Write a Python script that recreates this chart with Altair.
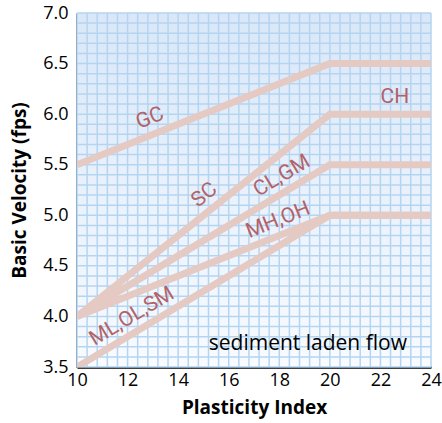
import altair as alt
import numpy as np
import pandas as pd

# ---- data ----
series = ["GC", "SC", "CL,GM", "MH,OH", "ML,OL,SM"]
pi_points = [10, 20, 24]
vel_gc = [5.5, 6.5, 6.5]
vel_sc = [4.0, 6.0, 6.0]
vel_clgm = [4.0, 5.5, 5.5]
vel_mhoh = [4.0, 5.0, 5.0]
vel_mlolsm = [3.5, 5.0, 5.0]

label_text = ["GC", "SC", "CL,GM", "MH,OH", "ML,OL,SM", "CH"]
label_x = [12.89, 15.04, 18.1, 17.95, 12.17, 22.57]
label_y = [5.96, 5.20, 5.39, 4.95, 4.00, 6.17]
label_angle = [338.2, 321.3, 329.0, 338.2, 329.0, 0]

x_ticks = [10, 12, 14, 16, 18, 20, 22, 24]
y_ticks = [3.5, 4.0, 4.5, 5.0, 5.5, 6.0, 6.5, 7.0]

W, H = 354, 354
X_DOM = [10, 24]
Y_DOM = [3.5, 7.0]
X_TITLE = "Plasticity Index"
Y_TITLE = "Basic Velocity (fps)"

rows = []
for name, vals in zip(series, [vel_gc, vel_sc, vel_clgm, vel_mhoh, vel_mlolsm]):
    for px, v in zip(pi_points, vals):
        rows.append({"series": name, "pi": px, "vel": v})
lines_df = pd.DataFrame(rows)
labels_df = pd.DataFrame({"text": label_text, "x": label_x, "y": label_y, "angle": label_angle})
xgrid_df = pd.DataFrame({"g": np.round(np.arange(10, 24.0001, 0.4), 2)})
ygrid_df = pd.DataFrame({"g": np.round(np.arange(3.5, 7.0001, 0.1), 2)})
note_df = pd.DataFrame({"text": ["sediment laden flow"], "x": [19.13], "y": [3.67]})

xs = alt.Scale(domain=X_DOM, nice=False, zero=False)
ys = alt.Scale(domain=Y_DOM, nice=False, zero=False)

bg = alt.Chart(pd.DataFrame({"a": [0]})).mark_rect(
    fill=alt.LinearGradient(
        gradient="linear",
        stops=[alt.GradientStop(offset=0, color="#d9e7f8"),
               alt.GradientStop(offset=1, color="#f8fbff")],
        x1=0, x2=0, y1=0, y2=1,
    )
).encode(x=alt.value(0), x2=alt.value(W), y=alt.value(0), y2=alt.value(H))

grid_color = "#b4d5f1"
xgrid = alt.Chart(xgrid_df).mark_rule(color=grid_color, strokeWidth=1.5).encode(
    x=alt.X("g:Q", scale=xs, title=X_TITLE)
)
ygrid = alt.Chart(ygrid_df).mark_rule(color=grid_color, strokeWidth=1.5).encode(
    y=alt.Y("g:Q", scale=ys, title=Y_TITLE)
)

lines = alt.Chart(lines_df).mark_line(color="#e5c9c3", strokeWidth=7, clip=True).encode(
    x=alt.X("pi:Q", scale=xs, title=X_TITLE,
            axis=alt.Axis(values=x_ticks, format="d", labelPadding=4, titlePadding=9)),
    y=alt.Y("vel:Q", scale=ys, title=Y_TITLE,
            axis=alt.Axis(values=y_ticks, format=".1f", labelPadding=9, titlePadding=13)),
    detail="series:N",
)

labels = alt.Chart(labels_df).mark_text(
    font="Roboto", fontSize=21, color="#b26268", align="center", baseline="middle"
).encode(
    x=alt.X("x:Q", scale=xs, title=X_TITLE),
    y=alt.Y("y:Q", scale=ys, title=Y_TITLE),
    text="text:N",
    angle=alt.Angle("angle:Q", scale=None),
)

note = alt.Chart(note_df).mark_text(
    font="Open Sans", fontSize=21, color="black", align="center", baseline="alphabetic"
).encode(
    x=alt.X("x:Q", scale=xs, title=X_TITLE),
    y=alt.Y("y:Q", scale=ys, title=Y_TITLE),
    text="text:N",
)

chart = alt.layer(bg, xgrid, ygrid, lines, labels, note).properties(
    width=W, height=H,
    autosize=alt.AutoSizeParams(type="none"),
    padding={"left": 77, "top": 13, "right": 11, "bottom": 56},
).configure_view(stroke=None).configure_axis(
    grid=False, ticks=False, domainColor="black", domainWidth=2.5,
    labelFlush=False, labelOverlap=False, zindex=1,
    labelFont="Open Sans", labelFontSize=18, labelColor="black",
    titleFont="Open Sans", titleFontSize=19, titleFontWeight="bold", titleColor="black",
)

chart.save("out.html", embed_options={"renderer": "svg", "actions": False})
